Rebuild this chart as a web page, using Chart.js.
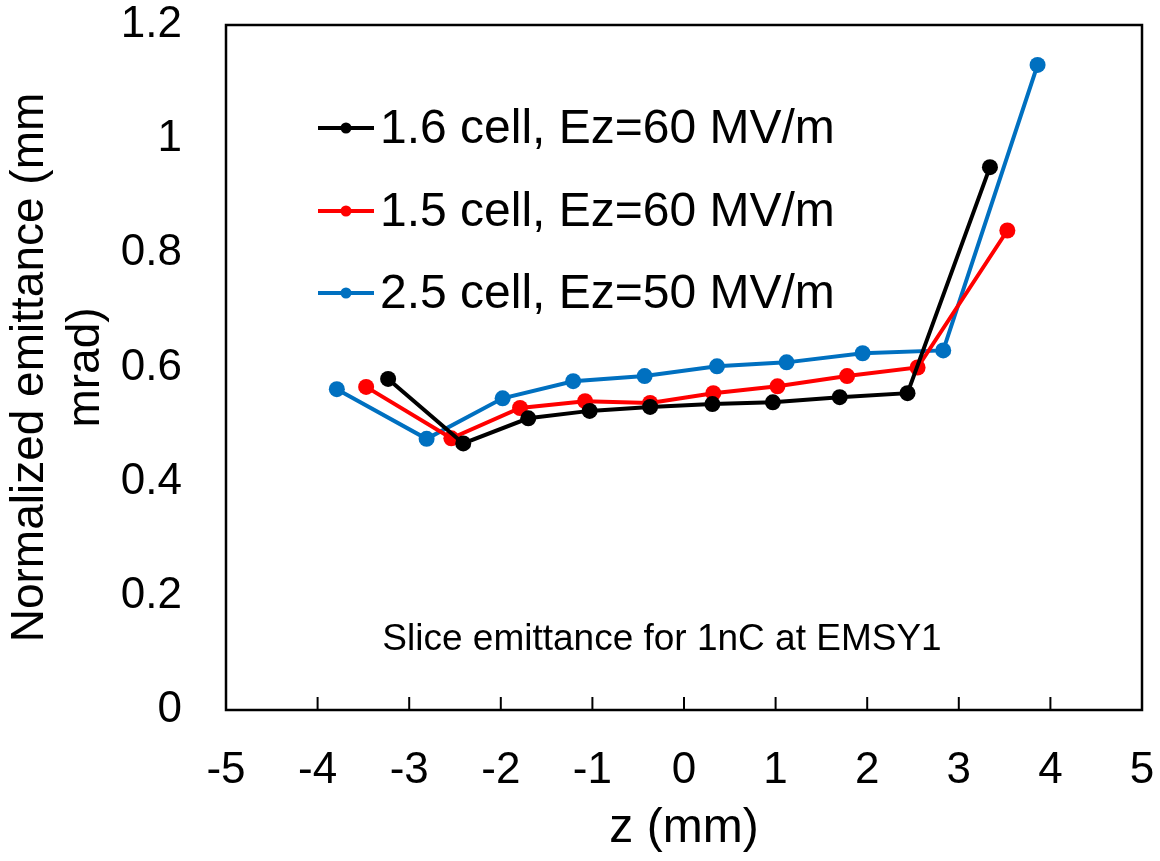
<!DOCTYPE html>
<html><head><meta charset="utf-8">
<script src="https://cdn.jsdelivr.net/npm/chart.js@4"></script>
<style>html,body{margin:0;padding:0;background:#fff;overflow:hidden}#wrap{width:1160px;height:861px;position:relative}</style>
</head><body><div id="wrap"><canvas id="c" width="1160" height="861"></canvas></div>
<script>
// ---- data ----
const seriesLabels = ['1.6 cell, Ez=60 MV/m', '1.5 cell, Ez=60 MV/m', '2.5 cell, Ez=50 MV/m'];
const seriesColors = ['#000000', '#ff0000', '#0070c0'];
const z16 = [-3.23, -2.41, -1.70, -1.03, -0.37, 0.31, 0.97, 1.70, 2.44, 3.34];
const e16 = [0.580, 0.467, 0.511, 0.524, 0.531, 0.536, 0.539, 0.548, 0.555, 0.951];
const z15 = [-3.47, -2.54, -1.79, -1.08, -0.37, 0.32, 1.02, 1.78, 2.55, 3.53];
const e15 = [0.566, 0.476, 0.529, 0.541, 0.538, 0.555, 0.567, 0.585, 0.600, 0.840];
const z25 = [-3.79, -2.81, -1.98, -1.21, -0.43, 0.36, 1.12, 1.95, 2.83, 3.86];
const e25 = [0.562, 0.475, 0.546, 0.576, 0.585, 0.602, 0.609, 0.625, 0.630, 1.130];
const xTicks = [-5, -4, -3, -2, -1, 0, 1, 2, 3, 4, 5];
const yTicks = [0, 0.2, 0.4, 0.6, 0.8, 1, 1.2];
const xTitle = 'z (mm)';
const yTitle = ['Normalized emittance (mm', 'mrad)'];
const note = 'Slice emittance for 1nC at EMSY1';
const notePos = {x: -0.24, y: 0.123};

const FONT = "'Liberation Sans', Arial, sans-serif";
const pts = (xs, ys) => xs.map((x, i) => ({x, y: ys[i]}));
const allZ = [z16, z15, z25];
const allE = [e16, e15, e25];

const datasets = seriesLabels.map((lab, i) => ({
  label: lab,
  data: pts(allZ[i], allE[i]),
  borderColor: seriesColors[i],
  backgroundColor: seriesColors[i],
  borderWidth: 4,
  pointRadius: 8,
  pointHoverRadius: 8,
  pointBorderWidth: 0,
  showLine: true,
  tension: 0
}));

const framePlugin = {
  id: 'frame',
  afterDatasetsDraw(chart) {
    const {ctx, chartArea: a, scales: {x, y}} = chart;
    ctx.save();
    ctx.strokeStyle = '#000';
    ctx.lineWidth = 2.5;
    ctx.strokeRect(a.left, a.top, a.right - a.left, a.bottom - a.top);
    ctx.lineWidth = 2;
    x.ticks.forEach((t, i) => {
      const px = x.getPixelForTick(i);
      ctx.beginPath(); ctx.moveTo(px, a.bottom); ctx.lineTo(px, a.bottom - 13); ctx.stroke();
    });
    // legend
    ctx.font = '48px ' + FONT;
    ctx.textBaseline = 'middle';
    ctx.textAlign = 'left';
    const rows = [128, 211, 293];
    chart.data.datasets.forEach((ds, i) => {
      const yy = rows[i];
      ctx.strokeStyle = ds.borderColor; ctx.fillStyle = ds.borderColor;
      ctx.lineWidth = 4;
      ctx.beginPath(); ctx.moveTo(318, yy); ctx.lineTo(374, yy); ctx.stroke();
      ctx.beginPath(); ctx.arc(346, yy, 5.5, 0, Math.PI * 2); ctx.fill();
      ctx.fillStyle = '#000';
      ctx.fillText(ds.label, 380, yy + 2);
    });
    // note
    ctx.font = '37px ' + FONT;
    ctx.textAlign = 'center';
    ctx.fillStyle = '#000';
    ctx.fillText(note, x.getPixelForValue(notePos.x), y.getPixelForValue(notePos.y));
    ctx.restore();
  }
};

new Chart(document.getElementById('c'), {
  type: 'scatter',
  data: {datasets},
  options: {
    responsive: false,
    animation: false,
    devicePixelRatio: 1,
    layout: {padding: {left: 0, right: 18, top: 25, bottom: 0}},
    plugins: {legend: {display: false}, tooltip: {enabled: false}},
    scales: {
      x: {
        type: 'linear', min: -5, max: 5,
        afterBuildTicks: s => { s.ticks = xTicks.map(v => ({value: v})); },
        afterFit: s => { s.height = 151; s.paddingLeft = 0; s.paddingRight = 0; },
        grid: {display: false, drawTicks: false},
        border: {display: false},
        ticks: {color: '#000', font: {family: FONT, size: 44}, padding: 34, maxRotation: 0, autoSkip: false,
                callback: v => String(v)},
        title: {display: true, text: xTitle, color: '#000', font: {family: FONT, size: 48, lineHeight: 1.0}, padding: {top: 0, bottom: 8}}
      },
      y: {
        type: 'linear', min: 0, max: 1.2,
        afterBuildTicks: s => { s.ticks = yTicks.map(v => ({value: v})); },
        afterFit: s => { s.width = 226; s.paddingTop = 0; s.paddingBottom = 0; },
        grid: {display: false, drawTicks: false},
        border: {display: false},
        ticks: {color: '#000', font: {family: FONT, size: 44}, padding: 44, autoSkip: false,
                callback: v => String(v)},
        title: {display: true, text: yTitle, color: '#000', font: {family: FONT, size: 46, lineHeight: 1.22}, padding: {top: 2, bottom: 0}}
      }
    }
  },
  plugins: [framePlugin]
});
</script>
</body></html>
